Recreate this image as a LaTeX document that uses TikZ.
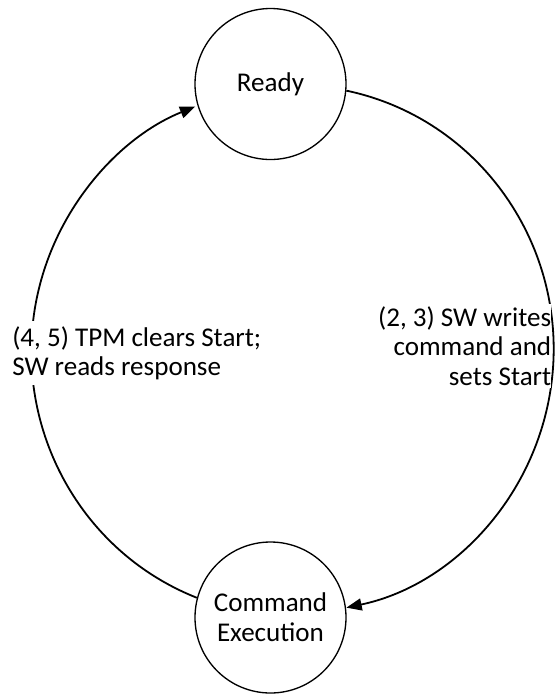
\documentclass[tikz,border=0pt]{standalone}
\usepackage{fontspec}
\setmainfont{Carlito}
\usetikzlibrary{arrows.meta}
\begin{document}
\begin{tikzpicture}[x=0.75pt,y=0.75pt,
  state/.style={circle,draw,line width=1pt,minimum size=113.25pt,inner sep=0pt,align=center,font=\fontsize{20.3}{22.5}\selectfont},
  trans/.style={line width=1.35pt,-{Triangle[length=11.5pt,width=9pt]}},
  lbl/.style={fill=white,font=\fontsize{20.3}{22}\selectfont,inner xsep=0pt}]
\useasboundingbox (0,0) rectangle (556,-694);
\node[state] (ready) at (270.5,-84) {Ready};
\node[state] (ce) at (270.5,-617.5) {Command\\Execution};
\draw[trans] (ready.-5) arc[start angle=78.3,end angle=-78.3,x radius=195pt,y radius=198pt];
\draw[trans] (ce.165) arc[start angle=248.7,end angle=111.7,x radius=195pt,y radius=198pt];
\node[lbl,anchor=west,align=left,inner ysep=4pt] (l45) at (12,-353) {(4, 5) TPM clears Start;\\SW reads response};
\node[lbl,anchor=east,align=right,inner ysep=2pt] (l23) at (551.5,-346) {(2, 3) SW writes\\command and\\sets Start};
\end{tikzpicture}
\end{document}
